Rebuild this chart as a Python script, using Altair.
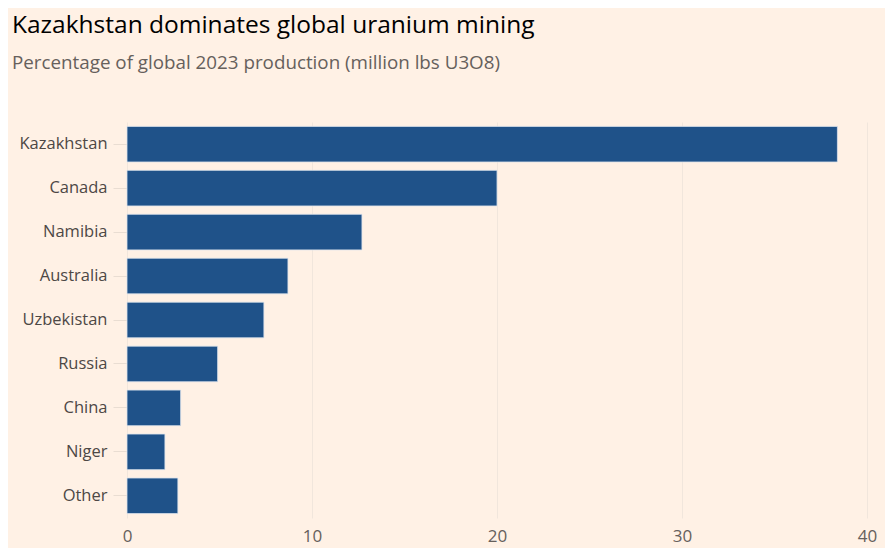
import altair as alt
import pandas as pd

countries = ["Kazakhstan", "Canada", "Namibia", "Australia", "Uzbekistan",
             "Russia", "China", "Niger", "Other"]
shares = [38.4, 20.0, 12.7, 8.7, 7.4, 4.9, 2.9, 2.05, 2.75]
x_ticks = [0, 10, 20, 30, 40]

df = pd.DataFrame({"country": countries, "share": shares})

FONT = "Open Sans"
BG = "#FFF1E5"

chart = alt.Chart(df).mark_bar(
    color="#1F5289", stroke="#DCE3EC", strokeWidth=0.8
).encode(
    x=alt.X("share:Q", scale=alt.Scale(domain=[0, 40], nice=False),
            axis=alt.Axis(values=x_ticks, title=None, grid=True,
                          gridColor="#F1E6DC", gridWidth=1, domain=False,
                          ticks=False, labelFontSize=17, labelColor="#66605C",
                          labelFont=FONT, labelPadding=10, labelFlush=False)),
    y=alt.Y("country:N", sort=countries,
            scale=alt.Scale(paddingInner=0.19, paddingOuter=0.1),
            axis=alt.Axis(title=None, domain=False, tickSize=14,
                          tickColor="#E9DDD2", labelPadding=6,
                          labelFontSize=16.5, labelColor="#4D4845",
                          labelFont=FONT)),
).properties(
    width=740, height=396,
    background=BG,
    padding={"left": 119, "top": 114, "right": 18, "bottom": 30},
    autosize=alt.AutoSizeParams(type="none"),
    title=alt.TitleParams(
        "Kazakhstan dominates global uranium mining",
        subtitle="Percentage of global 2023 production (million lbs U3O8)",
        anchor="start", frame="group", dx=-115, offset=48,
        font=FONT, fontSize=24.5, fontWeight="normal", color="#000000",
        subtitleFont=FONT, subtitleFontSize=18.8, subtitleColor="#66605C",
        subtitlePadding=16,
    ),
).configure_view(stroke=None)

chart.save("out.html", embed_options={"renderer": "svg", "actions": False})
